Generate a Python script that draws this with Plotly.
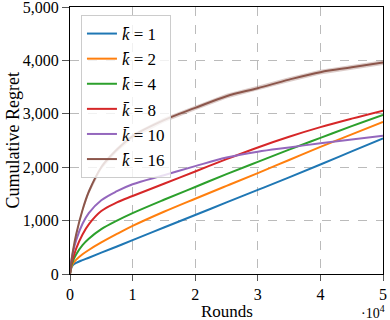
import plotly.graph_objects as go

rounds = [0, 200, 500, 1000, 2000, 3000, 5000, 7500, 10000, 15000, 20000,
          25000, 30000, 35000, 40000, 45000, 50000]

regret_k1 = [0, 110, 170, 210, 260, 305, 400, 515, 635, 870, 1105, 1340, 1575, 1810, 2050, 2295, 2540]
regret_k2 = [0, 120, 200, 270, 370, 450, 590, 750, 900, 1165, 1410, 1650, 1890, 2135, 2380, 2615, 2850]
regret_k4 = [0, 150, 250, 370, 540, 660, 840, 1000, 1140, 1390, 1630, 1870, 2100, 2330, 2550, 2770, 2980]
regret_k8 = [0, 180, 300, 480, 740, 930, 1180, 1340, 1460, 1690, 1920, 2150, 2370, 2570, 2750, 2910, 3060]
regret_k10 = [0, 250, 420, 640, 940, 1140, 1380, 1550, 1680, 1850, 2020, 2180, 2290, 2370, 2450, 2520, 2590]
regret_k16 = [0, 200, 450, 750, 1200, 1540, 2000, 2330, 2580, 2880, 3110, 3330, 3480, 3640, 3780, 3870, 3960]
std_k16 = 45

labels = ["1", "2", "4", "8", "10", "16"]
series = [regret_k1, regret_k2, regret_k4, regret_k8, regret_k10, regret_k16]
colors = ["#1f77b4", "#ff7f0e", "#2ca02c", "#d62728", "#9467bd", "#8c564b"]

font = "Liberation Serif"

fig = go.Figure()

# shaded band around the k=16 curve
fig.add_trace(go.Scatter(
    x=rounds + rounds[::-1],
    y=[v + std_k16 for v in regret_k16] + [v - std_k16 for v in regret_k16[::-1]],
    fill="toself", fillcolor="rgba(140,86,75,0.3)", line=dict(width=0),
    hoverinfo="skip", showlegend=False,
))

for lab, ys, c in zip(labels, series, colors):
    fig.add_trace(go.Scatter(
        x=rounds, y=ys, mode="lines", line=dict(color=c, width=2, shape="spline"),
        name="<i>k\u0304</i> = " + lab,
    ))

fig.update_layout(
    width=390, height=320,
    margin=dict(l=70, r=7, t=7, b=46),
    plot_bgcolor="white", paper_bgcolor="white",
    font=dict(family=font, size=16, color="black"),
    legend=dict(
        x=0.035, y=0.97, xanchor="left", yanchor="top",
        bgcolor="rgba(255,255,255,0.8)", bordercolor="#cccccc", borderwidth=1,
        font=dict(size=17), tracegroupgap=0, itemwidth=30,
    ),
)

fig.update_xaxes(
    range=[0, 50000], tickvals=[0, 10000, 20000, 30000, 40000, 50000],
    ticktext=["0", "1", "2", "3", "4", "5"],
    showline=True, linecolor="black", linewidth=1, mirror=True,
    ticks="outside", ticklen=6, tickcolor="#555555",
    showgrid=True, gridcolor="#bbbbbb", griddash="dash", zeroline=False,
    automargin=False, ticklabeloverflow="allow",
)
fig.update_yaxes(
    range=[0, 5000], tickvals=[0, 1000, 2000, 3000, 4000, 5000], tickformat=",d",
    showline=True, linecolor="black", linewidth=1, mirror=True,
    ticks="outside", ticklen=7, tickcolor="#555555",
    showgrid=True, gridcolor="#bbbbbb", griddash="dash", zeroline=False,
    automargin=False, ticklabeloverflow="allow",
)

# axis titles and the x scale factor
fig.add_annotation(
    x=0.5, y=0, xref="paper", yref="paper", yanchor="middle",
    yshift=-37, text="Rounds", showarrow=False, font=dict(size=17),
)
fig.add_annotation(
    x=0, y=0.5, xref="paper", yref="paper", xanchor="center",
    xshift=-58, text="Cumulative Regret", textangle=-90, showarrow=False,
    font=dict(size=18),
)
fig.add_annotation(
    x=1, y=0, xref="paper", yref="paper", xanchor="right", yanchor="top",
    xshift=4, yshift=-27, text="\u00b710<sup>4</sup>", showarrow=False,
    font=dict(size=14),
)

fig.write_html("out.html", config={"displayModeBar": False},
               post_script="document.body.style.margin='0';")
